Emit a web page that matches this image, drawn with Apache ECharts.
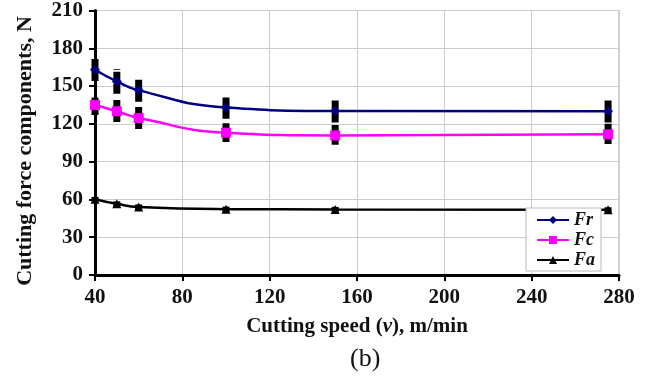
<!DOCTYPE html>
<html><head><meta charset="utf-8">
<script src="https://cdn.jsdelivr.net/npm/echarts@6/dist/echarts.min.js"></script>
<style>html,body{margin:0;padding:0;background:#fff}#c{width:661px;height:380px}</style>
</head><body><div id="c"></div>
<script>
const speeds = [40, 50, 60, 100, 150, 275];
const Fr = [163, 153.7, 146.6, 133, 130.2, 130];
const Fc = [135, 130, 124.6, 113, 110.8, 111.7];
const Fa = [60.2, 56.5, 54, 52.3, 52.1, 51.8];
const FrLow = [154, 144, 137.5, 124, 121, 121];
const FrHigh = [173, 163.5, 156.5, 141, 139.5, 139];
const FcLow = [127, 121.5, 116, 105.5, 103.5, 104];
const FcHigh = [141, 139, 133.5, 120.5, 119, 120];
const FaLow = [58.5, 54.5, 52, 50.3, 50.1, 49.8];
const FaHigh = [62, 58.5, 56, 54.3, 54.1, 53.8];
const xTicks = [40, 80, 120, 160, 200, 240, 280];
const yTicks = [0, 30, 60, 90, 120, 150, 180, 210];
const yTitle = 'Cutting force components, N';

const font = 'Liberation Serif';
function pairs(ys){ return speeds.map((x,i)=>[x, ys[i]]); }
function errData(lo, hi){ return speeds.map((x,i)=>[x, lo[i], hi[i]]); }
function errSeries(lo, hi){
  return {
    type: 'custom', z: 1, silent: true,
    renderItem: function(params, api){
      const p1 = api.coord([api.value(0), api.value(1)]);
      const p2 = api.coord([api.value(0), api.value(2)]);
      return {type:'line', shape:{x1:p1[0], y1:p1[1], x2:p2[0], y2:p2[1]},
        style:{stroke:'#000', lineWidth:7, lineDash:[10,2]}};
    },
    data: errData(lo, hi)
  };
}
const chart = echarts.init(document.getElementById('c'), null, {renderer:'canvas'});
chart.setOption({
  animation: false,
  backgroundColor: '#fff',
  title: {text: '(b)', left: 345, top: 341, textStyle:{fontFamily:font, fontWeight:'normal', fontSize:26, color:'#111'}},
  graphic: [{
    type: 'text', x: 25, y: 151, rotation: Math.PI / 2,
    style: {text: yTitle, fontFamily: font, fontWeight: 'bold', fontSize: 22, fill: '#111',
      textAlign: 'center', textVerticalAlign: 'middle'}
  }],
  grid: {left: 95, right: 42, top: 10, bottom: 105, show: true, borderColor: '#aaa', borderWidth: 1},
  legend: {
    orient: 'vertical', left: 526, top: 208,
    backgroundColor: '#fff', borderColor: '#bbb', borderWidth: 1,
    padding: [3, 6, 2, 10], itemWidth: 32, itemHeight: 10, itemGap: 2,
    textStyle: {fontFamily: font, fontWeight: 'bold', fontStyle: 'italic', fontSize: 18, color: '#111'},
    data: ['Fr', 'Fc', 'Fa']
  },
  xAxis: {
    type: 'value', min: xTicks[0], max: xTicks[xTicks.length-1], interval: 40,
    name: 'Cutting speed ({i|v}), m/min', nameLocation: 'middle', nameGap: 41,
    nameTextStyle: {fontFamily: font, fontWeight: 'bold', fontSize: 21, color: '#111',
      rich: {i: {fontFamily: font, fontWeight: 'bold', fontStyle: 'italic', fontSize: 21, color: '#111'}}},
    axisLine: {lineStyle: {color: '#000', width: 3}},
    axisTick: {show: true, length: 6, lineStyle: {color: '#000', width: 2}},
    axisLabel: {fontFamily: font, fontWeight: 'bold', fontSize: 21, color: '#111', margin: 12},
    splitLine: {show: true, lineStyle: {color: '#ccc', width: 1}}
  },
  yAxis: {
    type: 'value', min: yTicks[0], max: yTicks[yTicks.length-1], interval: 30,
    axisLine: {show: true, lineStyle: {color: '#000', width: 3}},
    axisTick: {show: true, length: 6, lineStyle: {color: '#000', width: 2}},
    axisLabel: {fontFamily: font, fontWeight: 'bold', fontSize: 21, color: '#111', margin: 12},
    splitLine: {show: true, lineStyle: {color: '#ccc', width: 1}}
  },
  series: [
    errSeries(FrLow, FrHigh),
    errSeries(FcLow, FcHigh),
    errSeries(FaLow, FaHigh),
    {name: 'Fr', type: 'line', z: 3, data: pairs(Fr), smooth: 0.5,
      symbol: 'diamond', symbolSize: 10, itemStyle: {color: '#000080'}, lineStyle: {color: '#000080', width: 2.5}},
    {name: 'Fc', type: 'line', z: 3, data: pairs(Fc), smooth: 0.5,
      symbol: 'rect', symbolSize: 10, itemStyle: {color: '#FF00FF'}, lineStyle: {color: '#FF00FF', width: 2.5}},
    {name: 'Fa', type: 'line', z: 3, data: pairs(Fa), smooth: 0.5,
      symbol: 'triangle', symbolSize: 9, itemStyle: {color: '#000'}, lineStyle: {color: '#000', width: 2.5}}
  ]
});
</script></body></html>
